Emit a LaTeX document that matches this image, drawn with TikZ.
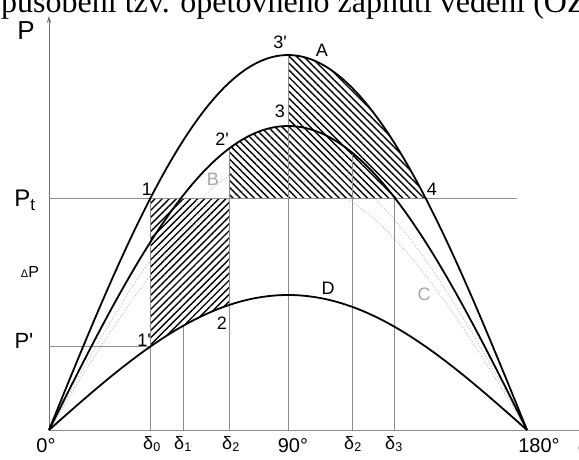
\documentclass[tikz,border=0pt]{standalone}
\usepackage{fontspec}
\setmainfont{Liberation Sans}
\newfontfamily\headfont{Liberation Serif}
\usetikzlibrary{arrows.meta, patterns.meta, calc}
\tikzset{
	curve/.style={draw=black, line width=1.8pt},
	gridline/.style={draw=black!45, line width=0.9pt},
	guide/.style={draw=black!30, dotted, line width=0.9pt},
	hatchleft/.style={pattern={Lines[angle=45, distance=5pt, line width=1.4pt]}},
	hatchright/.style={pattern={Lines[angle=-45, distance=5pt, line width=1.4pt]}},
	ptlabel/.style={font=\fontsize{18}{18}\selectfont, inner sep=0pt},
	axlabel/.style={font=\fontsize{20}{20}\selectfont, inner sep=0pt},
	faint/.style={text=black!35},
	declare function={px(\d)=49+\d*2.6556; cA(\d)=430-375*sin(\d);
		cM(\d)=430-304*sin(\d); cD(\d)=430-135*sin(\d);}
}
\newcommand{\dsub}[1]{δ\textsubscript{#1}}

\begin{document}
\begin{tikzpicture}[x=1pt, y=-1pt]
	\useasboundingbox (0,0) rectangle (579,460);
	\clip (0,0) rectangle (579,460);
	
	%% cut line of the page text
	\node[anchor=base west, font=\headfont\fontsize{32}{32}\selectfont, inner sep=0pt]
	(head) at (1,13) {působení tzv. opětovného zapnutí vedení (OZ};
	
	%% points on the axis
	\coordinate (O) at (49,430);
	\coordinate (E) at (527,430);
	\coordinate (ytop) at (49,16);
	\coordinate (xend) at (592,430);
	\coordinate (d0) at ({px(38.21)},430);
	\coordinate (d1) at ({px(50.5)},430);
	\coordinate (d2) at ({px(68)},430);
	\coordinate (m90) at ({px(90)},430);
	\coordinate (d2b) at ({px(114.1)},430);
	\coordinate (d3) at ({px(130.26)},430);
	
	%% points on the curves
	\coordinate (p1) at ({px(38.21)},198);
	\coordinate (p1s) at ({px(38.21)},{cD(38.21)});
	\coordinate (p2) at ({px(68)},{cD(68)});
	\coordinate (p2s) at ({px(68)},{cM(68)});
	\coordinate (q2) at ({px(68)},198);
	\coordinate (p3) at ({px(90)},{cM(90)});
	\coordinate (p3s) at ({px(90)},{cA(90)});
	\coordinate (p4) at ({px(141.79)},198);
	\coordinate (e1) at ({px(50.5)},{cD(50.5)});
	\coordinate (e2) at ({px(114.1)},{cM(114.1)});
	\coordinate (e3) at ({px(130.26)},198);
	\coordinate (Pt) at (49,198);
	\coordinate (Ptend) at (517,198);
	\coordinate (Pp) at (49,{cD(38.21)});
	
	%% dotted transition curves
	\draw[guide] plot[domain=0:180, samples=61] ({px(\x)},{430-250*sin(\x)});
	\draw[guide] plot[domain=0:180, samples=61] ({px(\x)},{430-275*sin(\x)});
	
	%% hatched areas
	\fill[hatchleft] (p1) -- (q2) -- (p2)
	-- plot[domain=68:38.21, samples=20] ({px(\x)},{cD(\x)}) -- cycle;
	\fill[hatchright] (q2) -- (p2s)
	-- plot[domain=68:90, samples=20] ({px(\x)},{cM(\x)}) -- (p3s)
	-- plot[domain=90:141.79, samples=30] ({px(\x)},{cA(\x)}) -- cycle;
	
	%% axes and guide lines
	\draw[gridline, -{Stealth[length=7pt, width=4.5pt]}, draw=black!55] (O) -- (ytop);
	\draw[gridline, -{Stealth[length=7pt, width=4.5pt]}] (O) -- (xend);
	\draw[gridline] (Pt) -- (Ptend);
	\draw[gridline] (Pp) -- (p1s);
	\draw[gridline] (d0) -- (p1);
	\draw[gridline] (d1) -- (e1);
	\draw[gridline] (d2) -- (p2s);
	\draw[gridline] (m90) -- (p3s);
	\draw[gridline] (d2b) -- (e2);
	\draw[gridline] (d3) -- (e3);
	
	%% power curves
	\draw[curve] plot[domain=0:180, samples=91] ({px(\x)},{cA(\x)});
	\draw[curve] plot[domain=0:180, samples=91] ({px(\x)},{cM(\x)});
	\draw[curve] plot[domain=0:180, samples=91] ({px(\x)},{cD(\x)});
	
	%% labels
	\node[font=\fontsize{26}{26}\selectfont, inner sep=0pt] (lP) at (26,31) {P};
	\node[font=\fontsize{24}{24}\selectfont, inner sep=0pt] (lPt) at (25,200) {P\textsubscript{t}};
	\node[font=\fontsize{16}{16}\selectfont, inner sep=0pt] (ldP) at (30,272)
	{{\fontsize{11}{11}\selectfont Δ}P};
	\node[font=\fontsize{22}{22}\selectfont, inner sep=0pt] (lPp) at (24,341) {P\textquotesingle};
	
	\node[ptlabel] (l1) at (147,189) {1};
	\node[ptlabel] (l1s) at (144,340) {1\textquotesingle};
	\node[ptlabel] (l2) at (222,323) {2};
	\node[ptlabel] (l2s) at (222,139) {2\textquotesingle};
	\node[ptlabel] (l3) at (280,111) {3};
	\node[ptlabel] (l3s) at (280,42) {3\textquotesingle};
	\node[ptlabel] (l4) at (432,189) {4};
	\node[ptlabel] (lA) at (322,50) {A};
	\node[ptlabel, faint] (lB) at (213,179) {B};
	\node[ptlabel, faint] (lC) at (424,294) {C};
	\node[ptlabel] (lD) at (328,288) {D};
	
	\node[axlabel] (t0) at (46,446) {0°};
	\node[axlabel, font=\fontsize{18}{18}\selectfont] (td0) at (152,444) {\dsub{0}};
	\node[axlabel, font=\fontsize{18}{18}\selectfont] (td1) at (183,444) {\dsub{1}};
	\node[axlabel, font=\fontsize{18}{18}\selectfont] (td2) at (231,444) {\dsub{2}};
	\node[axlabel] (t90) at (293,446) {90°};
	\node[axlabel, font=\fontsize{18}{18}\selectfont] (td2b) at (353,444) {\dsub{2}};
	\node[axlabel, font=\fontsize{18}{18}\selectfont] (td3) at (394,444) {\dsub{3}};
	\node[axlabel] (t180) at (539,446) {180°};
	\node[axlabel, font=\fontsize{22}{22}\selectfont] (tdel) at (584,446) {δ};
	
\end{tikzpicture}
\end{document}
